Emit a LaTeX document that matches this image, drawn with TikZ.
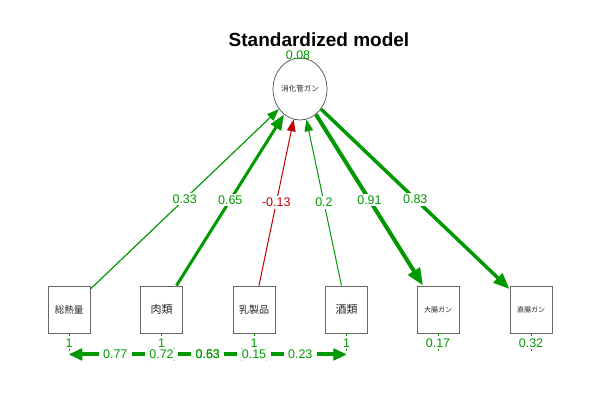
\documentclass[tikz,border=0pt]{standalone}
\usepackage{fontspec}
\setmainfont{Liberation Sans}
\newfontfamily\jp{Noto Sans CJK JP}
\usetikzlibrary{arrows.meta,shapes.geometric}
\definecolor{posc}{HTML}{009900}
\definecolor{negc}{HTML}{BF0000}
\newcommand{\fs}[1]{\fontsize{#1}{#1}\selectfont}
\begin{document}
\begin{tikzpicture}[x=1pt,y=-1pt,
  box/.style={draw=black!60, line width=0.9pt, minimum width=42pt, minimum height=47pt, inner sep=0pt, text=black!85},
  lat/.style={draw=black!70, line width=0.7pt, ellipse, minimum width=54pt, minimum height=62pt, inner sep=0pt, text=black!85},
  lbl/.style={fill=white, inner xsep=3pt, inner ysep=2pt, font=\fs{12.5}, text=posc},
  nlbl/.style={lbl, text=negc},
  clbl/.style={lbl, inner xsep=4.5pt, inner ysep=1pt},
  res/.style={font=\fs{12.5}, text=posc, inner sep=0pt},
  tipx/.style={-{Triangle[length=#1*1.8pt+10pt, width=#1*1.6pt+7pt]}},
  reg/.style={posc, line width=#1pt, tipx=#1},
  cov/.style={posc, line width=4pt, {Triangle[length=13pt,width=11pt]}-{Triangle[length=13pt,width=11pt]}},
  tick/.style={posc, line width=0.8pt}
]
\useasboundingbox (0,0) rectangle (600,400);
\node[font=\bfseries\fs{19}, inner sep=0pt] (title) at (319,39.5) {Standardized model};

\node[lat, font=\jp\fs{7.5}] (lv) at (300,89) {消化管ガン};
\node[res] (lvv) at (298,55.5) {0.08};

\node[box, font=\jp\fs{9.5}] (x1) at (69,309.5) {総熱量};
\node[box, font=\jp\fs{11}] (x2) at (161.5,309.5) {肉類};
\node[box, font=\jp\fs{10}] (x3) at (254,309.5) {乳製品};
\node[box, font=\jp\fs{11}] (x4) at (346.5,309.5) {酒類};
\node[box, font=\jp\fs{7}] (y1) at (438,309.5) {大腸ガン};
\node[box, font=\jp\fs{7}] (y2) at (531,309.5) {直腸ガン};

% regressions
\draw[reg=1.2] (x1) -- node[lbl] {0.33} (lv);
\draw[reg=3] (x2) -- node[lbl] {0.65} (lv);
\draw[reg=1, negc] (x3) -- node[nlbl] {-0.13} (lv);
\draw[reg=1] (x4) -- node[lbl] {0.2} (lv);
\draw[reg=4] (lv) -- node[lbl] {0.91} (y1);
\draw[reg=3.5] (lv) -- node[lbl] {0.83} (y2);

% residual variances
\foreach \n/\v in {x1/1,x2/1,x3/1,x4/1,y1/0.17,y2/0.32}{
  \node[res] (r\n) at ([yshift=-10pt]\n.south) {\v};
  \draw[tick] ([yshift=-1pt]\n.south) -- ([yshift=-3pt]\n.south);
  \draw[tick] ([yshift=-16pt]\n.south) -- ([yshift=-18pt]\n.south);
}

% covariances
\foreach \n in {1,2,3,4}{\coordinate (c\n) at ([yshift=-21pt]x\n.south);}
\draw[cov] (c1) -- (c2);
\draw[cov] (c1) -- (c3);
\draw[cov] (c1) -- (c4);
\draw[cov] (c2) -- (c3);
\draw[cov] (c2) -- (c4);
\draw[cov] (c3) -- (c4);
\path (c1) -- node[clbl] {0.77} (c2);
\path (c1) -- node[clbl] {0.72} (c3);
\path (c1) -- node[clbl] {0.63} (c4);
\path (c2) -- node[clbl, fill=none] {0.53} (c3);
\path (c2) -- node[clbl] {0.15} (c4);
\path (c3) -- node[clbl] {0.23} (c4);
\end{tikzpicture}
\end{document}
